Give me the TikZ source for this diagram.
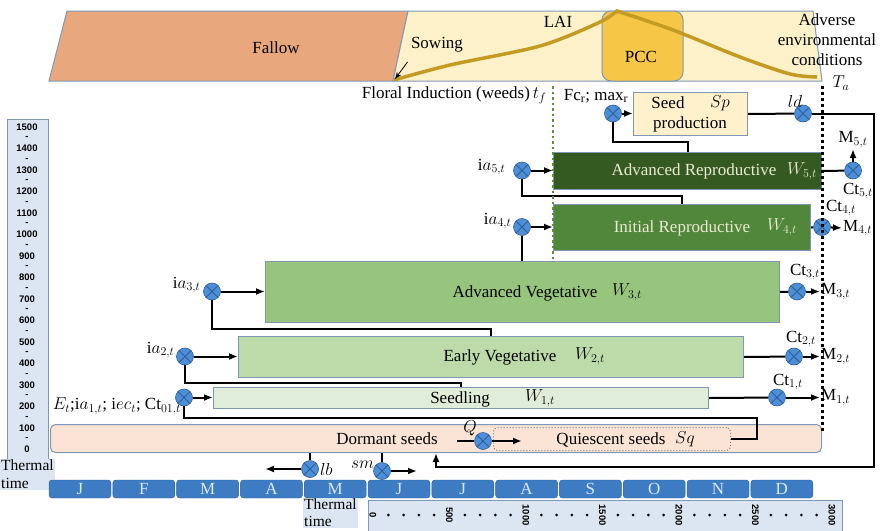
\documentclass[tikz,border=0pt]{standalone}
\usepackage{fontspec}
\setmainfont{Liberation Serif}
\setsansfont{Liberation Sans}
\usetikzlibrary{arrows.meta}

\definecolor{edge}{HTML}{7F98B8}
\definecolor{fallow}{HTML}{E9A77D}
\definecolor{season}{HTML}{FDF1CA}
\definecolor{pcc}{HTML}{F6C647}
\definecolor{lai}{HTML}{C49B22}
\definecolor{dormant}{HTML}{FBE4D5}
\definecolor{seedling}{HTML}{E0EDD8}
\definecolor{earlyveg}{HTML}{BCDBA8}
\definecolor{advveg}{HTML}{97C57E}
\definecolor{inirep}{HTML}{50873A}
\definecolor{advrep}{HTML}{345A22}
\definecolor{seedprod}{HTML}{FFF1CC}
\definecolor{gatefill}{HTML}{4C8FD8}
\definecolor{gateline}{HTML}{2D5E96}
\definecolor{monthfill}{HTML}{3D7CC3}
\definecolor{monthtext}{HTML}{DCE8F7}
\definecolor{axisbg}{HTML}{DCE6F2}
\definecolor{paletext}{HTML}{ECEBD2}
\definecolor{tfgreen}{HTML}{5F8F3C}

\tikzset{
  stage/.style={draw=edge, line width=1pt, anchor=north west, inner sep=0pt},
  gate/.style={circle, draw=gateline, fill=gatefill, line width=0.6pt, minimum size=17pt, inner sep=0pt,
    path picture={\draw[gateline, line width=1pt]
      (path picture bounding box.north west) -- (path picture bounding box.south east)
      (path picture bounding box.south west) -- (path picture bounding box.north east);}},
  link/.style={line width=2pt},
  flow/.style={line width=2pt, -{Latex[length=9pt,width=7pt]}},
  month/.style={draw=gateline, fill=monthfill, rounded corners=3pt, minimum width=62pt,
    minimum height=18pt, inner sep=0pt, text=monthtext},
  axisnum/.style={font=\sffamily\bfseries\fontsize{9.5}{10}\selectfont, inner sep=0pt},
}

\begin{document}
\begin{tikzpicture}[x=1pt, y=-1pt, font=\fontsize{17}{20}\selectfont]
\useasboundingbox (0,0) rectangle (880,530);

% season band
\filldraw[fill=fallow, draw=edge, line width=1pt] (67,11) -- (408,11) -- (393,81) -- (49,81) -- cycle;
\filldraw[fill=season, draw=edge, line width=1pt] (408,11) -- (813,11) -- (822,81) -- (393,81) -- cycle;
\filldraw[fill=pcc, draw=edge, line width=1pt, rounded corners=9pt] (602,11) rectangle (683,81);
\draw[lai, line width=3.5pt] plot[smooth] coordinates {(394,80) (450,65) (540,46) (598,23) (617,11)}
  -- plot[smooth] coordinates {(617,11) (673,30) (740,57) (790,74) (817,77)};
\node at (276,48) {Fallow};
\node (sow) at (437,45) {Sowing};
\coordinate (sowpt) at (395,79);
\draw[-{Stealth[length=7pt]}, line width=0.8pt] ([yshift=-6pt]sow.south west) -- (sowpt);
\node at (558,22) {LAI};
\node at (641,57) {PCC};
\node[align=center, inner sep=0pt] at (827,40) {Adverse\\environmental\\conditions};
\node at (841,83) {$T_a$};
\node[anchor=east] at (550,95) {Floral Induction (weeds)$\,t_f$};

% thermal time scale on the left
\filldraw[fill=axisbg, draw=edge, line width=1pt] (7,119) rectangle (48,460);
\foreach \v [count=\i from 0] in {1500,1400,...,0}
  \node[axisnum] at (27,127+21.5*\i) {\v};
\foreach \i in {0,...,14}
  \node[axisnum] at (27,138+21.5*\i) {-};
\node[anchor=north west, fill=axisbg, align=left, inner sep=1pt, font=\fontsize{15.5}{18}\selectfont] at (0,459) {Thermal\\time};

% months
\foreach \m [count=\i from 0] in {J,F,M,A,M,J,J,A,S,O,N,D}
  \node[month] (mo\i) at (80+63.8*\i,489) {\m};

% thermal time scale at the bottom
\node[anchor=north west, fill=axisbg, align=left, inner sep=1pt, font=\fontsize{15.5}{17}\selectfont] at (303,498) {Thermal\\time};
\filldraw[fill=axisbg, draw=edge, line width=1pt] (368,500) rectangle (842,532);
\foreach \v [count=\i from 0] in {0,500,...,3000}
  \node[axisnum, rotate=-90] at (373+76.5*\i,515) {\v};
\foreach \i in {0,...,5}
  \foreach \j in {1,...,4}
    \fill (373+76.5*\i+15.3*\j,515) circle[radius=1.5pt];

% stages
\node[stage, fill=seedprod, minimum width=114pt, minimum height=43pt] (sp) at (633,92) {};
\node[stage, fill=advrep, minimum width=268pt, minimum height=37pt] (w5) at (553,152) {};
\node[stage, fill=inirep, minimum width=257pt, minimum height=46pt] (w4) at (553,204) {};
\node[stage, fill=advveg, minimum width=514pt, minimum height=61pt] (w3) at (265,261) {};
\node[stage, fill=earlyveg, minimum width=505pt, minimum height=41pt] (w2) at (238,336) {};
\node[stage, fill=seedling, minimum width=495pt, minimum height=21pt] (w1) at (213,387) {};
\node[stage, fill=dormant, rounded corners=5pt, minimum width=771pt, minimum height=28pt] (sd) at (50,424) {};
\node[stage, fill=dormant, draw=gray, dotted, rounded corners=4pt, minimum width=237pt, minimum height=23pt] (sq) at (493,427) {};

\node at (668,103) {Seed};
\node at (720,103) {$Sp$};
\node at (690,124) {production};
\node[text=paletext] at (694,171) {Advanced Reproductive};
\node[text=paletext] at (802,171) {$W_{5,t}$};
\node[text=paletext] at (682,228) {Initial Reproductive};
\node[text=paletext] at (782,227) {$W_{4,t}$};
\node at (525,293) {Advanced Vegetative};
\node at (627,292) {$W_{3,t}$};
\node at (500,357) {Early Vegetative};
\node at (590,356) {$W_{2,t}$};
\node at (460,399) {Seedling};
\node at (540,398) {$W_{1,t}$};
\node at (387,439) {Dormant seeds};
\node at (611,440) {Quiescent seeds};
\node at (685,439) {$Sq$};

% gates
\node[gate] (fm) at (613,113.5) {};
\node[gate] (ld) at (803,113.5) {};
\node[gate] (ia5) at (522,170.5) {};
\node[gate] (ct5) at (853,170.5) {};
\node[gate] (ia4) at (522,227) {};
\node[gate] (ct4) at (822,227) {};
\node[gate] (ia3) at (212,291.5) {};
\node[gate] (ct3) at (797,291.5) {};
\node[gate] (ia2) at (185,356.5) {};
\node[gate] (ct2) at (794,356.5) {};
\node[gate] (ia1) at (184,397.5) {};
\node[gate] (ct1) at (777,397.5) {};
\node[gate] (q) at (483,441) {};
\node[gate] (lb) at (310,469) {};
\node[gate] (sm) at (382,471) {};

\node at (596,96) {Fc$_\mathrm{r}$; max$_\mathrm{r}$};
\node at (795,101) {$ld$};
\node[anchor=east] at (509,167) {i$a_{5,t}$};
\node[anchor=east] at (515,221) {i$a_{4,t}$};
\node[anchor=east] at (204,285) {i$a_{3,t}$};
\node[anchor=east] at (178,350) {i$a_{2,t}$};
\node[anchor=east, inner sep=1pt] at (182,406) {$E_t$;i$a_{1,t}$; i$ec_t$; Ct$_{01,t}$};
\node at (470,428) {$Q$};
\node[anchor=west, inner sep=1pt] at (lb.east) {$lb$};
\node[anchor=east, inner sep=1pt] at (375,465) {$sm$};

% outflows
\node[anchor=south, inner sep=1pt] (m5) at (853,149) {M$_{5,t}$};
\node[anchor=west, inner sep=1pt] (m4) at (842,228) {M$_{4,t}$};
\node[anchor=west, inner sep=1pt] (m3) at (820,291.5) {M$_{3,t}$};
\node[anchor=west, inner sep=1pt] (m2) at (820,356.5) {M$_{2,t}$};
\node[anchor=west, inner sep=1pt] (m1) at (820,397.5) {M$_{1,t}$};
\node at (858,191) {Ct$_{5,t}$};
\node at (841,208) {Ct$_{4,t}$};
\node at (805,272) {Ct$_{3,t}$};
\node at (801,339) {Ct$_{2,t}$};
\node at (788,382) {Ct$_{1,t}$};

% connectors
\draw[flow] (fm) -- (sp.west |- fm);
\draw[link] (fm.south) -- ++(0,19.5) -| (w5.north);
\draw[link] (sp.east) -- (ld);
\draw[flow] (ld) -| (874,467) -| (sd.south);
\draw[flow] (ia5) -- (ia5 -| w5.west);
\draw[link] (ia5.south) -- ++(0,17) -| (w4.north);
\draw[flow] (ia4) -- (ia4 -| w4.west);
\draw[link] (ia4) -- (ia4 |- w3.north);
\draw[flow] (ia3) -- (ia3 -| w3.west);
\draw[link] (ia3.south) -- ++(0,28.5) -| (w2.north);
\draw[flow] (ia2) -- (ia2 -| w2.west);
\draw[link] (ia2.south) -- ++(0,17.5) -| (w1.north);
\draw[flow] (ia1) -- (ia1 -| w1.west);
\draw[link] (sq.east) -| (757,418) -| (ia1);

\draw[link] (w5.east) -- (ct5);
\draw[flow] (ct5) -- (m5.south);
\draw[link] (w4.east) -- (ct4);
\draw[flow] (ct4) -- (m4.west);
\draw[link] (w3.east) -- (ct3);
\draw[flow] (ct3) -- (m3.west);
\draw[link] (w2.east) -- (ct2);
\draw[flow] (ct2) -- (m2.west);
\draw[link] (w1.east) -- (ct1);
\draw[flow] (ct1) -- (m1.west);

\coordinate (qin) at (457,441);
\coordinate (qout) at (522,441);
\draw[link] (qin) -- (q);
\draw[flow] (q) -- (qout);
\coordinate (lbout) at (265,469);
\coordinate (smout) at (417,471);
\draw[link] (lb |- sd.south) -- (lb);
\draw[flow] (lb) -- (lbout);
\draw[link] (sm |- sd.south) -- (sm);
\draw[flow] (sm) -- (smout);

% floral induction and adverse conditions
\draw[tfgreen, line width=2.5pt, dash pattern=on 2.5pt off 3pt] (553,86) -- (553,261);
\draw[black, line width=3pt, dash pattern=on 3pt off 3pt] (822,86) -- (822,432);
\end{tikzpicture}
\end{document}
